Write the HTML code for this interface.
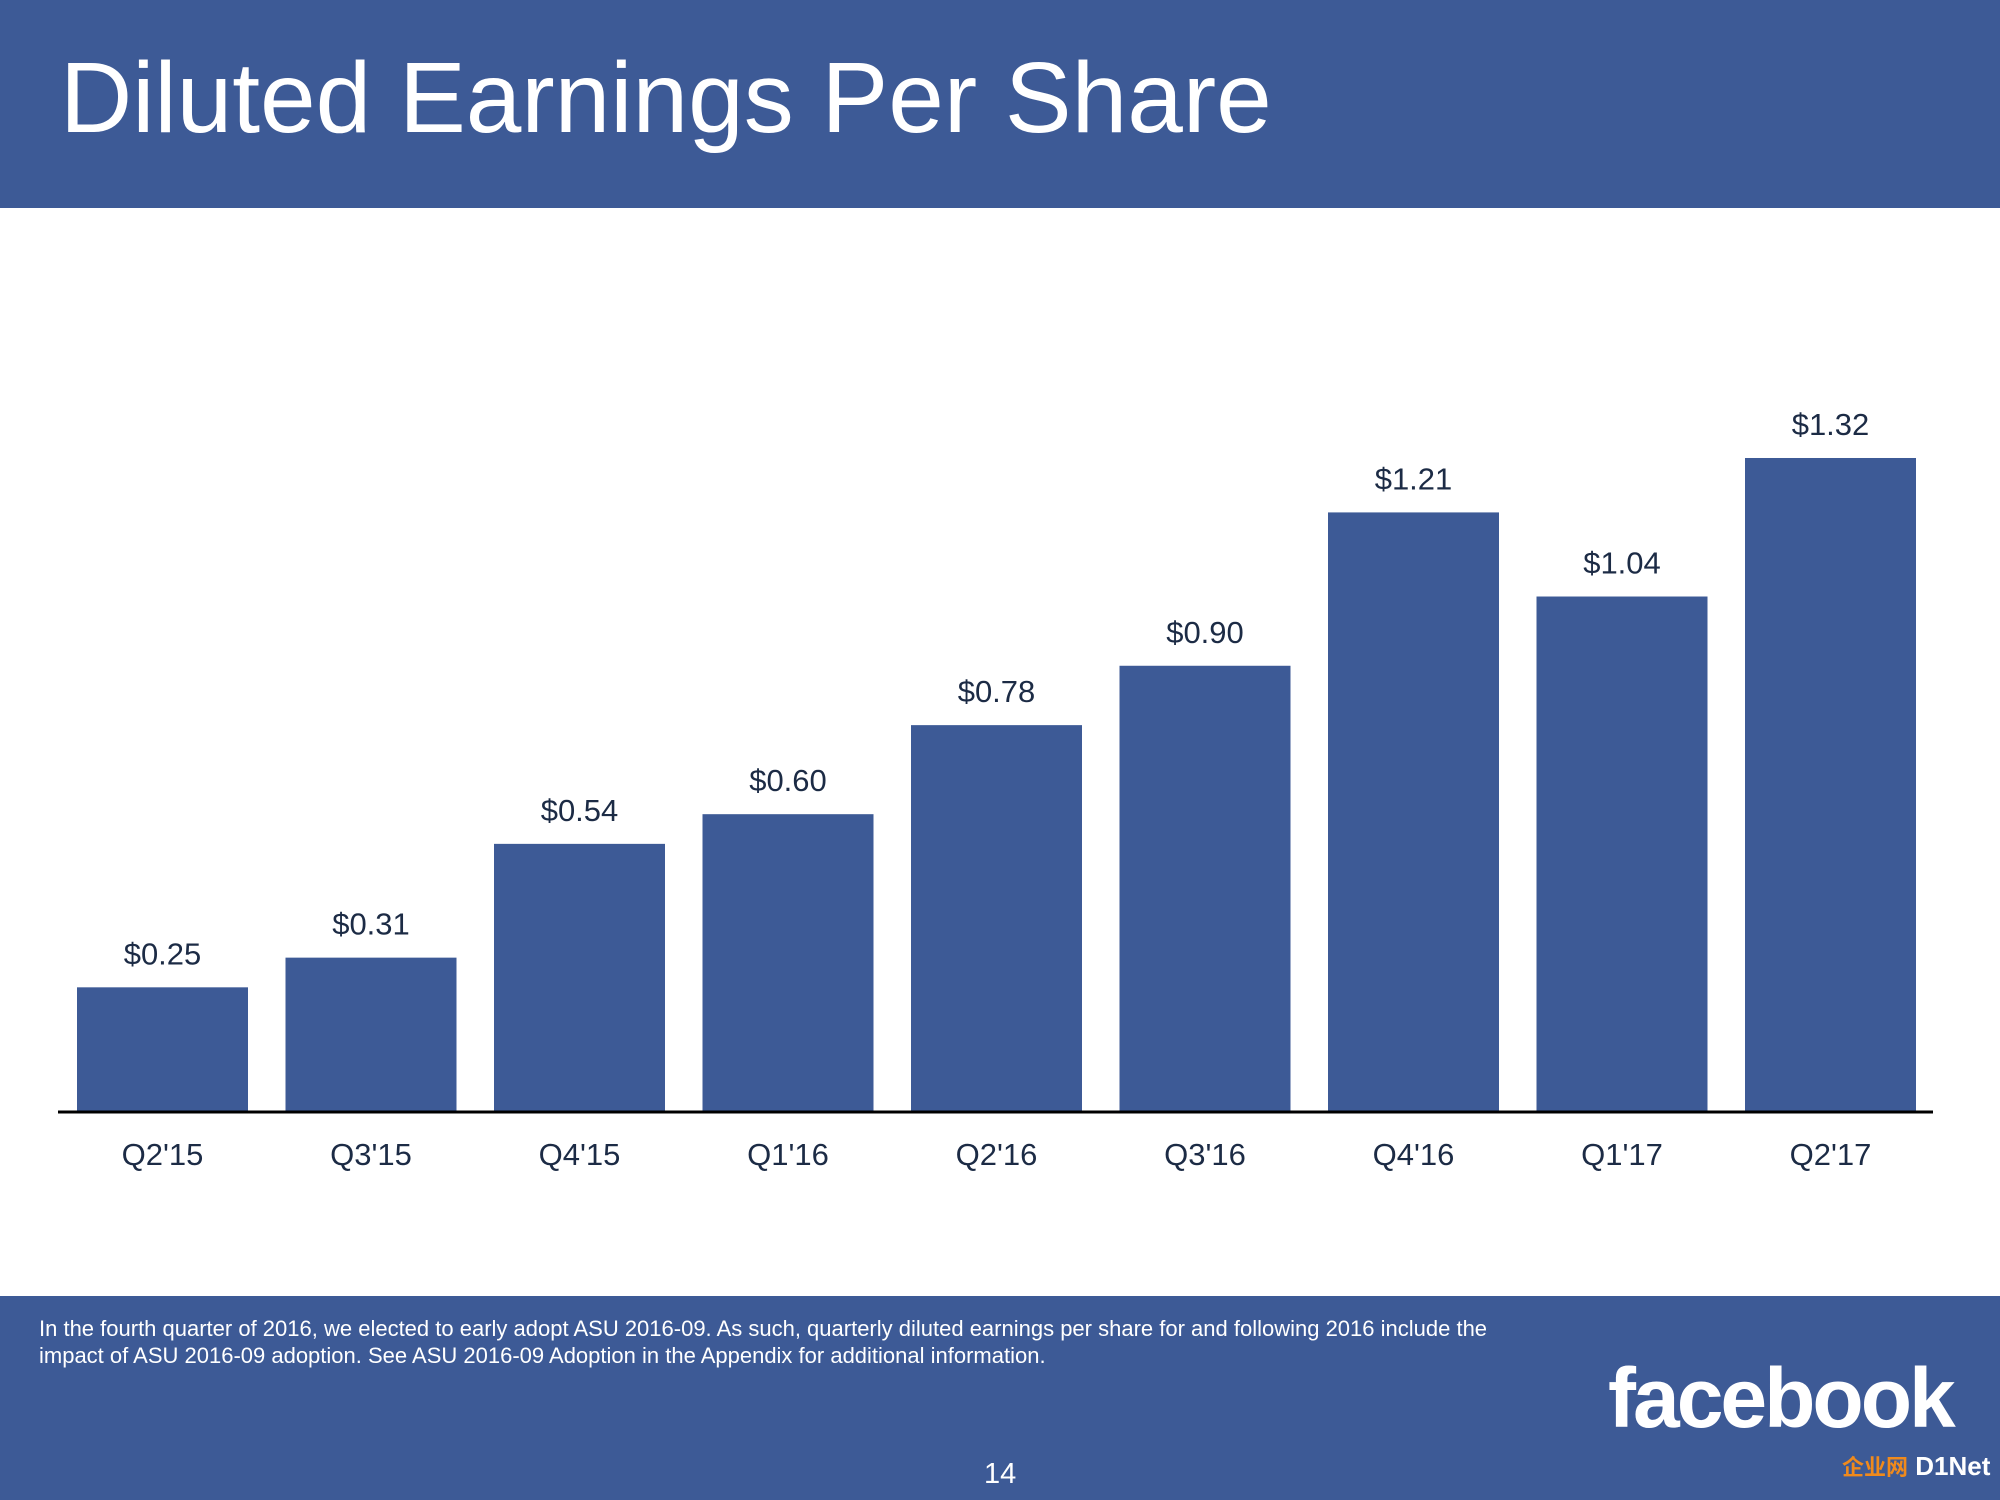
<!DOCTYPE html>
<html><head><meta charset="utf-8"><style>
body{margin:0;width:2000px;height:1500px;position:relative;background:#fff;font-family:"Liberation Sans",Arial,sans-serif;overflow:hidden}
#hdr{position:absolute;left:0;top:0;width:2000px;height:208px;background:#3d5a96}
#title{position:absolute;left:60px;top:41px;font-size:100px;color:#fff;white-space:nowrap}
#ftr{position:absolute;left:0;top:1296px;width:2000px;height:204px;background:#3d5a96}
#note{position:absolute;left:39px;top:19px;width:1480px;font-size:22px;line-height:27px;color:#fff}
#pg{position:absolute;left:984px;top:162px;font-size:29px;color:#fff}
#logo{position:absolute;left:1608px;top:54px;font-size:84px;font-weight:bold;color:#fff;letter-spacing:-3px}
#dinet{position:absolute;left:1842px;top:154px;font-size:26px;font-weight:bold;white-space:nowrap}
</style></head><body>
<div id="hdr"><div id="title">Diluted Earnings Per Share</div></div>
<svg id="chart" width="2000" height="1500" style="position:absolute;left:0;top:0"></svg>
<div id="ftr">
<div id="note">In the fourth quarter of 2016, we elected to early adopt ASU 2016-09. As such, quarterly diluted earnings per share for and following 2016 include the impact of ASU 2016-09 adoption. See ASU 2016-09 Adoption in the Appendix for additional information.</div>
<div id="pg">14</div>
<div id="logo">facebook</div>
<div id="dinet"><span style="color:#f08a1c;font-family:'Noto Sans CJK SC',sans-serif;font-size:22px">企业网</span><span style="color:#fff"> D1Net</span></div>
</div>
<script>
const categories=["Q2'15","Q3'15","Q4'15","Q1'16","Q2'16","Q3'16","Q4'16","Q1'17","Q2'17"];
const values=[0.25,0.31,0.54,0.60,0.78,0.90,1.21,1.04,1.32];
const labels=["$0.25","$0.31","$0.54","$0.60","$0.78","$0.90","$1.21","$1.04","$1.32"];
const svg=document.getElementById('chart');
const NS='http://www.w3.org/2000/svg';
const base=1111, pxPerUnit=494.7, x0=77, pitch=208.5, bw=171;
const y=v=>base-v*pxPerUnit;
const xb=i=>x0+i*pitch;
function mk(tag,attrs){const e=document.createElementNS(NS,tag);for(const k in attrs)e.setAttribute(k,attrs[k]);svg.appendChild(e);return e;}
values.forEach((v,i)=>{
 const r=mk('rect',{x:xb(i),y:y(v),width:bw,height:base-y(v),fill:'#3d5a96'});
 
 
 const t=mk('text',{x:xb(i)+bw/2,y:y(v)-23,'text-anchor':'middle','font-size':31,fill:'#1c2b45','font-family':'Liberation Sans, sans-serif'});
 t.textContent=labels[i];
 
 
 const c=mk('text',{x:xb(i)+bw/2,y:1165,'text-anchor':'middle','font-size':31,fill:'#1c2b45','font-family':'Liberation Sans, sans-serif'});
 c.textContent=categories[i];
 
 
});
const ax=mk('line',{x1:58,x2:1933,y1:base+1,y2:base+1,stroke:'#000','stroke-width':3});


</script>
</body></html>
